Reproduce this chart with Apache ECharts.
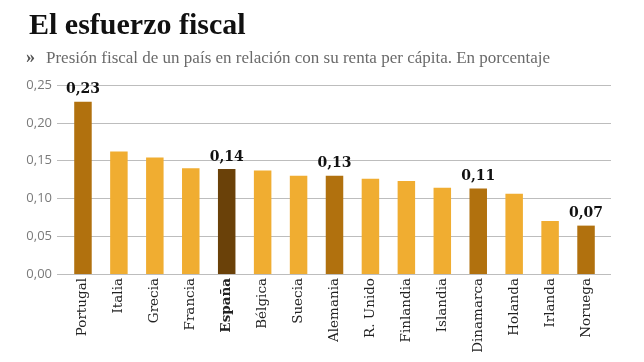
<!DOCTYPE html>
<html>
<head>
<meta charset="utf-8">
<script src="https://cdn.jsdelivr.net/npm/echarts@6/dist/echarts.min.js"></script>
<style>
html,body{margin:0;padding:0;background:#fff;}
#chart{width:644px;height:362px;}
</style>
</head>
<body>
<div id="chart"></div>
<script>
const categories = ['Portugal','Italia','Grecia','Francia','España','Bélgica','Suecia','Alemania','R. Unido','Finlandia','Islandia','Dinamarca','Holanda','Irlanda','Noruega'];
const values = [0.228,0.162,0.154,0.140,0.139,0.137,0.130,0.130,0.126,0.123,0.114,0.113,0.106,0.070,0.064];
const valueLabels = ['0,23','','','','0,14','','','0,13','','','','0,11','','','0,07'];
const tones = ['mid','light','light','light','dark','light','light','mid','light','light','light','mid','light','light','mid'];
const yTicks = ['0,00','0,05','0,10','0,15','0,20','0,25'];

const palette = {light:'#F0AD31', mid:'#B1710E', dark:'#6A4109'};

const chart = echarts.init(document.getElementById('chart'), null, {renderer:'canvas'});
chart.setOption({
  animation:false,
  backgroundColor:'#ffffff',
  title:[{
    text:'El esfuerzo fiscal',
    left:24, top:6,
    textStyle:{fontFamily:'Liberation Serif', fontWeight:'bold', fontSize:30, color:'#111'}
  },{
    text:'»',
    left:21, top:44,
    textStyle:{fontFamily:'Liberation Serif', fontWeight:'bold', fontSize:18, color:'#555'}
  },{
    text:'Presión fiscal de un país en relación con su renta per cápita. En porcentaje',
    left:41, top:45,
    textStyle:{fontFamily:'Liberation Serif', fontWeight:'normal', fontSize:17, color:'#6a6a6a'}
  }],
  grid:[
    {left:57, right:33, top:85, bottom:88},
    {left:65, right:40, top:85, bottom:88}
  ],
  xAxis:[
    {gridIndex:0, type:'value', min:0, max:1, show:false},
    {gridIndex:1, type:'category', data:categories,
     axisLine:{show:false}, axisTick:{show:false},
     axisLabel:{rotate:90, margin:4, interval:0,
       fontFamily:'DejaVu Serif', fontSize:13.5, color:'#222',
       formatter:function(v){ return v==='España' ? '{b|'+v+'}' : v; },
       rich:{b:{fontFamily:'DejaVu Serif', fontSize:13.5, fontWeight:'bold', color:'#222'}}
     }}
  ],
  yAxis:[
    {gridIndex:0, type:'value', min:0, max:0.25, interval:0.05,
     axisLine:{show:false}, axisTick:{show:false},
     splitLine:{lineStyle:{color:'#bdbdbd', width:1}},
     axisLabel:{margin:5, fontFamily:'Open Sans', fontSize:13, color:'#7a7a7a',
       formatter:function(v){ return yTicks[Math.round(v/0.05)]; }}},
    {gridIndex:1, type:'value', min:0, max:0.25, interval:0.05, show:false}
  ],
  series:[{
    type:'bar',
    xAxisIndex:1, yAxisIndex:1,
    barWidth:17.5,
    data: values.map(function(v,i){
      return {value:v, itemStyle:{color:palette[tones[i]]},
        label:{show: valueLabels[i] !== '', formatter: valueLabels[i]}};
    }),
    label:{position:'top', distance:5, fontFamily:'DejaVu Serif', fontWeight:'bold', fontSize:14, color:'#111'}
  }]
});
</script>
</body>
</html>
